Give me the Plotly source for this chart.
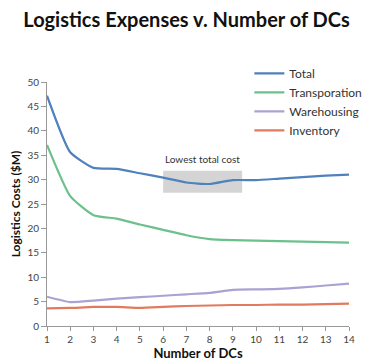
import plotly.graph_objects as go

dcs = list(range(1, 15))
total = [47.2, 35.6, 32.4, 32.2, 31.3, 30.4, 29.4, 29.1, 29.9, 29.9, 30.2, 30.5, 30.8, 31.0]
transportation = [37.1, 26.6, 22.7, 22.0, 20.8, 19.7, 18.6, 17.8, 17.6, 17.5, 17.4, 17.3, 17.2, 17.1]
warehousing = [6.0, 4.9, 5.2, 5.6, 5.9, 6.2, 6.5, 6.8, 7.4, 7.5, 7.6, 7.9, 8.3, 8.7]
inventory = [3.6, 3.7, 3.9, 3.9, 3.7, 3.9, 4.1, 4.2, 4.3, 4.3, 4.4, 4.4, 4.5, 4.6]
series_names = ["Total", "Transporation", "Warehousing", "Inventory"]
colors = ["#4f81bd", "#6cc08b", "#a9a3d3", "#e07b5e"]
box_x = [6.0, 9.4]
box_y = [27.3, 31.8]
box_label = "Lowest total cost"

# the page body has an 8px default margin, so the figure is sized to fit inside the window
W, H = 372, 354

fig = go.Figure()
fig.add_shape(type="rect", x0=box_x[0], x1=box_x[1], y0=box_y[0], y1=box_y[1],
              fillcolor="#d4d4d4", line=dict(width=0), layer="below")
fig.add_annotation(x=(box_x[0] + box_x[1]) / 2, y=box_y[1], text=box_label,
                   showarrow=False, yanchor="bottom", yshift=4,
                   font=dict(family="Lato", size=10, color="#333"))

for name, vals, c in zip(series_names, [total, transportation, warehousing, inventory], colors):
    fig.add_trace(go.Scatter(x=dcs, y=vals, name=name, mode="lines",
                             line=dict(color=c, width=2.2, shape="spline", smoothing=0.5)))

fig.update_layout(
    width=W, height=H,
    margin=dict(l=39, r=31, t=74, b=36, autoexpand=False),
    paper_bgcolor="white", plot_bgcolor="white",
    title=dict(text="<b>Logistics Expenses v. Number of DCs</b>", x=0.48, xanchor="center",
               y=1 - 12 / H, yanchor="middle",
               font=dict(family="Lato", size=20, color="#111")),
    font=dict(family="Lato", color="#444"),
    legend=dict(x=0.67, y=1.095, xanchor="left", yanchor="top", bgcolor="rgba(0,0,0,0)",
                font=dict(family="Lato", size=12, color="#333"), tracegroupgap=0,
                itemwidth=30),
    showlegend=True,
)
fig.update_xaxes(range=[1, 14], tickvals=dcs, showgrid=False, zeroline=False,
                 showline=True, linecolor="#999", linewidth=1, ticks="outside",
                 ticklen=4, tickcolor="#999", tickfont=dict(size=10, color="#444"),
                 automargin=False,
                 title=dict(text="<b>Number of DCs</b>", font=dict(size=13, color="#111"),
                            standoff=2))
fig.update_yaxes(range=[0, 50], dtick=5, showgrid=False, zeroline=False,
                 showline=True, linecolor="#999", linewidth=1, ticks="outside",
                 ticklen=5, tickcolor="#999", tickfont=dict(size=10, color="#444"),
                 automargin=False,
                 title=dict(text="<b>Logistics Costs ($M)</b>", font=dict(size=12, color="#111"),
                            standoff=4))

fig.write_html("out.html")
